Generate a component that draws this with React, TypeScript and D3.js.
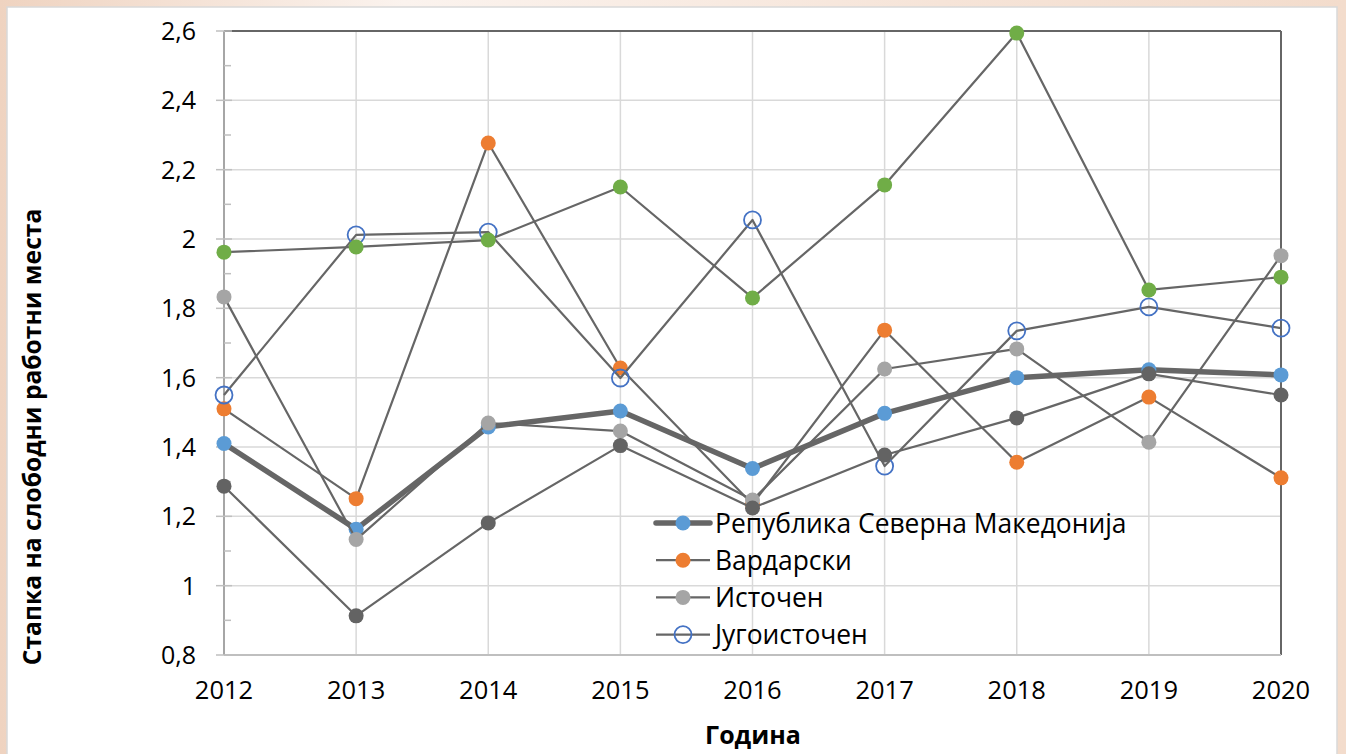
import * as d3 from "d3";

const years = ["2012", "2013", "2014", "2015", "2016", "2017", "2018", "2019", "2020"];
const yTicks = [0.8, 1, 1.2, 1.4, 1.6, 1.8, 2, 2.2, 2.4, 2.6];

// region values
const republika = [1.41, 1.163, 1.458, 1.504, 1.338, 1.497, 1.6, 1.623, 1.608];
const vardarski = [1.51, 1.251, 2.277, 1.628, 1.235, 1.737, 1.356, 1.544, 1.311];
const istocen = [1.833, 1.133, 1.469, 1.446, 1.247, 1.625, 1.683, 1.414, 1.952];
const jugoistocen = [1.55, 2.012, 2.02, 1.599, 2.055, 1.345, 1.735, 1.804, 1.743];
const zelena = [1.962, 1.977, 1.997, 2.15, 1.83, 2.156, 2.594, 1.853, 1.89];
const temna = [1.287, 0.913, 1.181, 1.404, 1.224, 1.377, 1.484, 1.611, 1.55];

type Series = { name: string; values: number[]; fill: string; open?: boolean; thick?: boolean; legend: boolean };

const series: Series[] = [
  { name: "Република Северна Македонија", values: republika, fill: "#5b9bd5", thick: true, legend: true },
  { name: "Вардарски", values: vardarski, fill: "#ed7d31", legend: true },
  { name: "Источен", values: istocen, fill: "#a5a5a5", legend: true },
  { name: "Југоисточен", values: jugoistocen, fill: "#4472c4", open: true, legend: true },
  { name: "zelena", values: zelena, fill: "#70ad47", legend: false },
  { name: "temna", values: temna, fill: "#636363", legend: false },
];

const W = 1346;
const H = 754;
const plot = { left: 224, right: 1281, top: 31, bottom: 655 };
const FONT = "'Open Sans', 'Noto Sans', sans-serif";

export default function App() {
  const x = d3.scalePoint<string>().domain(years).range([plot.left, plot.right]);
  const y = d3.scaleLinear().domain([0.8, 2.6]).range([plot.bottom, plot.top]);
  const minor = d3.range(0.9, 2.6, 0.2);

  const line = d3
    .line<number>()
    .x((_, i) => x(years[i]) as number)
    .y((d) => y(d));

  const legendItems = series.filter((s) => s.legend);

  return (
    <svg
      width={W}
      height={H}
      style={{ position: "absolute", left: 0, top: 0, display: "block" }}
    >
      <defs>
        <linearGradient id="bg" x1="0" y1="0" x2="1" y2="0">
          <stop offset="0" stopColor="#efd3c0" />
          <stop offset="0.3" stopColor="#fbf3ee" />
          <stop offset="0.7" stopColor="#f6e4d8" />
          <stop offset="1" stopColor="#f3dccc" />
        </linearGradient>
      </defs>
      <rect x={0} y={0} width={W} height={H} fill="url(#bg)" />
      <rect x={7} y={7} width={1330} height={H} fill="#fff" stroke="#d9d9d9" strokeWidth={1.5} />

      {/* gridlines */}
      {yTicks.map((t) => (
        <line key={"h" + t} x1={plot.left} x2={plot.right} y1={y(t)} y2={y(t)} stroke="#d9d9d9" strokeWidth={1.5} />
      ))}
      {years.map((yr) => (
        <line key={"v" + yr} x1={x(yr)} x2={x(yr)} y1={plot.top} y2={plot.bottom} stroke="#d9d9d9" strokeWidth={1.5} />
      ))}

      {/* plot border top / right */}
      <line x1={plot.left} x2={plot.right} y1={plot.top} y2={plot.top} stroke="#666" strokeWidth={2} />
      <line x1={plot.right} x2={plot.right} y1={plot.top} y2={plot.bottom} stroke="#666" strokeWidth={2} />

      {/* axes */}
      <line x1={plot.left} x2={plot.right} y1={plot.bottom} y2={plot.bottom} stroke="#bfbfbf" strokeWidth={2} />
      <line x1={plot.left} x2={plot.left} y1={plot.top} y2={plot.bottom} stroke="#a6a6a6" strokeWidth={2} />
      {yTicks.map((t) => (
        <line key={"mt" + t} x1={plot.left - 8} x2={plot.left + 8} y1={y(t)} y2={y(t)} stroke="#bfbfbf" strokeWidth={1.5} />
      ))}
      {minor.map((t) => (
        <line key={"mn" + t} x1={plot.left} x2={plot.left + 7} y1={y(t)} y2={y(t)} stroke="#bfbfbf" strokeWidth={1.5} />
      ))}
      {yTicks.map((t) => (
        <text
          key={"yl" + t}
          x={plot.left - 28}
          y={y(t)}
          dy="0.36em"
          textAnchor="end"
          fontFamily={FONT}
          fontSize={25}
          fill="#000"
        >
          {String(t).replace(".", ",")}
        </text>
      ))}
      {years.map((yr) => (
        <text key={"xl" + yr} x={x(yr)} y={699} textAnchor="middle" fontFamily={FONT} fontSize={25.5} fill="#000">
          {yr}
        </text>
      ))}

      {/* series */}
      {series.map((s) => (
        <g key={s.name}>
          <path d={line(s.values) || ""} fill="none" stroke="#666" strokeWidth={s.thick ? 5.5 : 2.2} strokeLinejoin="round" />
          {s.values.map((v, i) =>
            s.open ? (
              <circle key={i} cx={x(years[i])} cy={y(v)} r={8.5} fill="none" stroke={s.fill} strokeWidth={1.8} />
            ) : (
              <circle key={i} cx={x(years[i])} cy={y(v)} r={7.5} fill={s.fill} />
            )
          )}
        </g>
      ))}

      {/* legend */}
      {legendItems.map((s, i) => {
        const cy = 523 + i * 37.2;
        return (
          <g key={"lg" + s.name}>
            <line x1={656} x2={710} y1={cy} y2={cy} stroke="#666" strokeWidth={s.thick ? 5.5 : 2.2} strokeLinecap={s.thick ? "round" : "butt"} />
            {s.open ? (
              <circle cx={683} cy={cy} r={8.5} fill="none" stroke={s.fill} strokeWidth={1.8} />
            ) : (
              <circle cx={683} cy={cy} r={7.5} fill={s.fill} />
            )}
            <text x={715} y={cy} dy="0.36em" fontFamily={FONT} fontSize={26.4} fill="#000">
              {s.name}
            </text>
          </g>
        );
      })}

      {/* axis titles */}
      <text x={753} y={744} textAnchor="middle" fontFamily={FONT} fontSize={25} fontWeight="bold" fill="#000">
        Година
      </text>
      <text
        transform={`translate(41,${437}) rotate(-90)`}
        textAnchor="middle"
        fontFamily={FONT}
        fontSize={24.6}
        fontWeight="bold"
        fill="#000"
      >
        Стапка на слободни работни места
      </text>
    </svg>
  );
}
